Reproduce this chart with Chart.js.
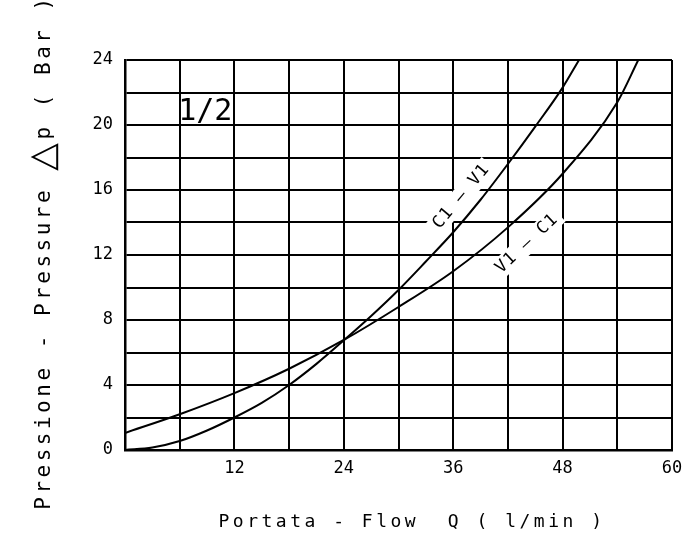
<!DOCTYPE html>
<html>
<head>
<meta charset="utf-8">
<script src="https://cdn.jsdelivr.net/npm/chart.js@4"></script>
<style>
  body { margin: 0; background: #fff; }
  #wrap { width: 686px; height: 535px; }
</style>
</head>
<body>
<div id="wrap"><canvas id="Chart" width="686" height="535"></canvas></div>
<script>
// flow in l/min
const flowC1V1 = [0, 3, 6, 9, 12, 15, 18, 21, 24, 27, 30, 33, 36, 39, 42, 45, 48, 49.8];
const presC1V1 = [0, 0.15, 0.55, 1.2, 2.0, 2.9, 4.0, 5.3, 6.75, 8.25, 9.85, 11.6, 13.4, 15.4, 17.6, 19.9, 22.3, 24];
const flowV1C1 = [0, 6, 12, 18, 24, 30, 36, 42, 48, 54, 56.3];
const presV1C1 = [1.05, 2.2, 3.5, 5.0, 6.77, 8.8, 11.0, 13.7, 17.0, 21.4, 24];

const xTickLabels = [12, 24, 36, 48, 60];
const yTickLabels = [0, 4, 8, 12, 16, 20, 24];

const toPoints = (xs, ys) => xs.map((x, i) => ({ x: x, y: ys[i] }));

const mono = '"DejaVu Sans Mono", "Liberation Mono", monospace';

// labels written on the plot
const curveLabels = [
  { text: 'C1 \u2013 V1', x: 36.9, y: 15.6, angle: -50 },
  { text: 'V1 \u2013 C1', x: 44.1, y: 12.7, angle: -43 }
];

const textPlugin = {
  id: 'texts',
  beforeDatasetsDraw(chart) {
    const ctx = chart.ctx;
    const sx = chart.scales.x, sy = chart.scales.y;
    ctx.save();
    ctx.font = '17px ' + mono;
    ctx.letterSpacing = '1px';
    curveLabels.forEach(l => {
      const w = ctx.measureText(l.text).width;
      ctx.save();
      ctx.translate(sx.getPixelForValue(l.x), sy.getPixelForValue(l.y));
      ctx.rotate(l.angle * Math.PI / 180);
      ctx.fillStyle = '#fff';
      ctx.fillRect(-w / 2 - 4, -10, w + 8, 20);
      ctx.restore();
    });
    ctx.restore();
  },
  afterDatasetsDraw(chart) {
    const ctx = chart.ctx;
    const sx = chart.scales.x, sy = chart.scales.y;
    ctx.save();
    ctx.fillStyle = '#000';
    ctx.textAlign = 'center';
    ctx.textBaseline = 'middle';
    ctx.font = '17px ' + mono;
    ctx.letterSpacing = '1px';
    curveLabels.forEach(l => {
      ctx.save();
      ctx.translate(sx.getPixelForValue(l.x), sy.getPixelForValue(l.y));
      ctx.rotate(l.angle * Math.PI / 180);
      ctx.fillText(l.text, 0, 0);
      ctx.restore();
    });

    // size tag
    ctx.letterSpacing = '0px';
    ctx.font = '30px ' + mono;
    ctx.fillText('1/2', sx.getPixelForValue(8.8), sy.getPixelForValue(20.8));

    // x title
    ctx.font = '18px ' + mono;
    ctx.letterSpacing = '3.5px';
    ctx.fillText('Portata - Flow  Q ( l/min )', 412, 522);

    // y title, rotated
    ctx.save();
    ctx.translate(45, 252);
    ctx.rotate(-Math.PI / 2);
    ctx.textAlign = 'left';
    ctx.letterSpacing = '3.5px';
    const parts = [
      { t: 'Pressione - Pressure ', f: '21px ' + mono },
      { t: '\u25B3', f: '36px "DejaVu Sans"' },
      { t: 'p ( Bar )', f: '21px ' + mono }
    ];
    let total = 0;
    parts.forEach(p => { ctx.font = p.f; p.w = ctx.measureText(p.t).width; total += p.w; });
    let px = -total / 2;
    parts.forEach(p => { ctx.font = p.f; ctx.fillText(p.t, px, 0); px += p.w; });
    ctx.restore();
    ctx.restore();
  }
};

const ctx = document.getElementById('Chart');
const myChart = new Chart(ctx, {
  type: 'scatter',
  data: {
    datasets: [
      {
        label: 'C1 - V1',
        data: toPoints(flowC1V1, presC1V1),
        showLine: true,
        borderColor: '#000',
        borderWidth: 2,
        pointRadius: 0,
        cubicInterpolationMode: 'monotone'
      },
      {
        label: 'V1 - C1',
        data: toPoints(flowV1C1, presV1C1),
        showLine: true,
        borderColor: '#000',
        borderWidth: 2,
        pointRadius: 0,
        cubicInterpolationMode: 'monotone'
      }
    ]
  },
  plugins: [textPlugin],
  options: {
    responsive: false,
    animation: false,
    layout: { padding: { top: 60, right: 14, left: 0, bottom: 0 } },
    plugins: { legend: { display: false }, tooltip: { enabled: false } },
    scales: {
      x: {
        type: 'linear',
        min: 0,
        max: 60,
        afterFit: s => { s.height = 85; s.paddingLeft = 0; s.paddingRight = 0; },
        ticks: {
          stepSize: 6,
          autoSkip: false,
          maxRotation: 0,
          padding: 8,
          color: '#000',
          font: { family: mono, size: 17 },
          callback: v => xTickLabels.includes(v) ? String(v) : ''
        },
        grid: { color: '#000', lineWidth: 2, drawTicks: false },
        border: { color: '#000', width: 2.5 }
      },
      y: {
        min: 0,
        max: 24,
        afterFit: s => { s.width = 125; s.paddingTop = 0; s.paddingBottom = 0; },
        ticks: {
          stepSize: 2,
          autoSkip: false,
          padding: 12,
          color: '#000',
          font: { family: mono, size: 17 },
          callback: v => yTickLabels.includes(v) ? String(v) : ''
        },
        grid: { color: '#000', lineWidth: 2, drawTicks: false },
        border: { color: '#000', width: 2.5 }
      }
    }
  }
});
</script>
</body>
</html>
